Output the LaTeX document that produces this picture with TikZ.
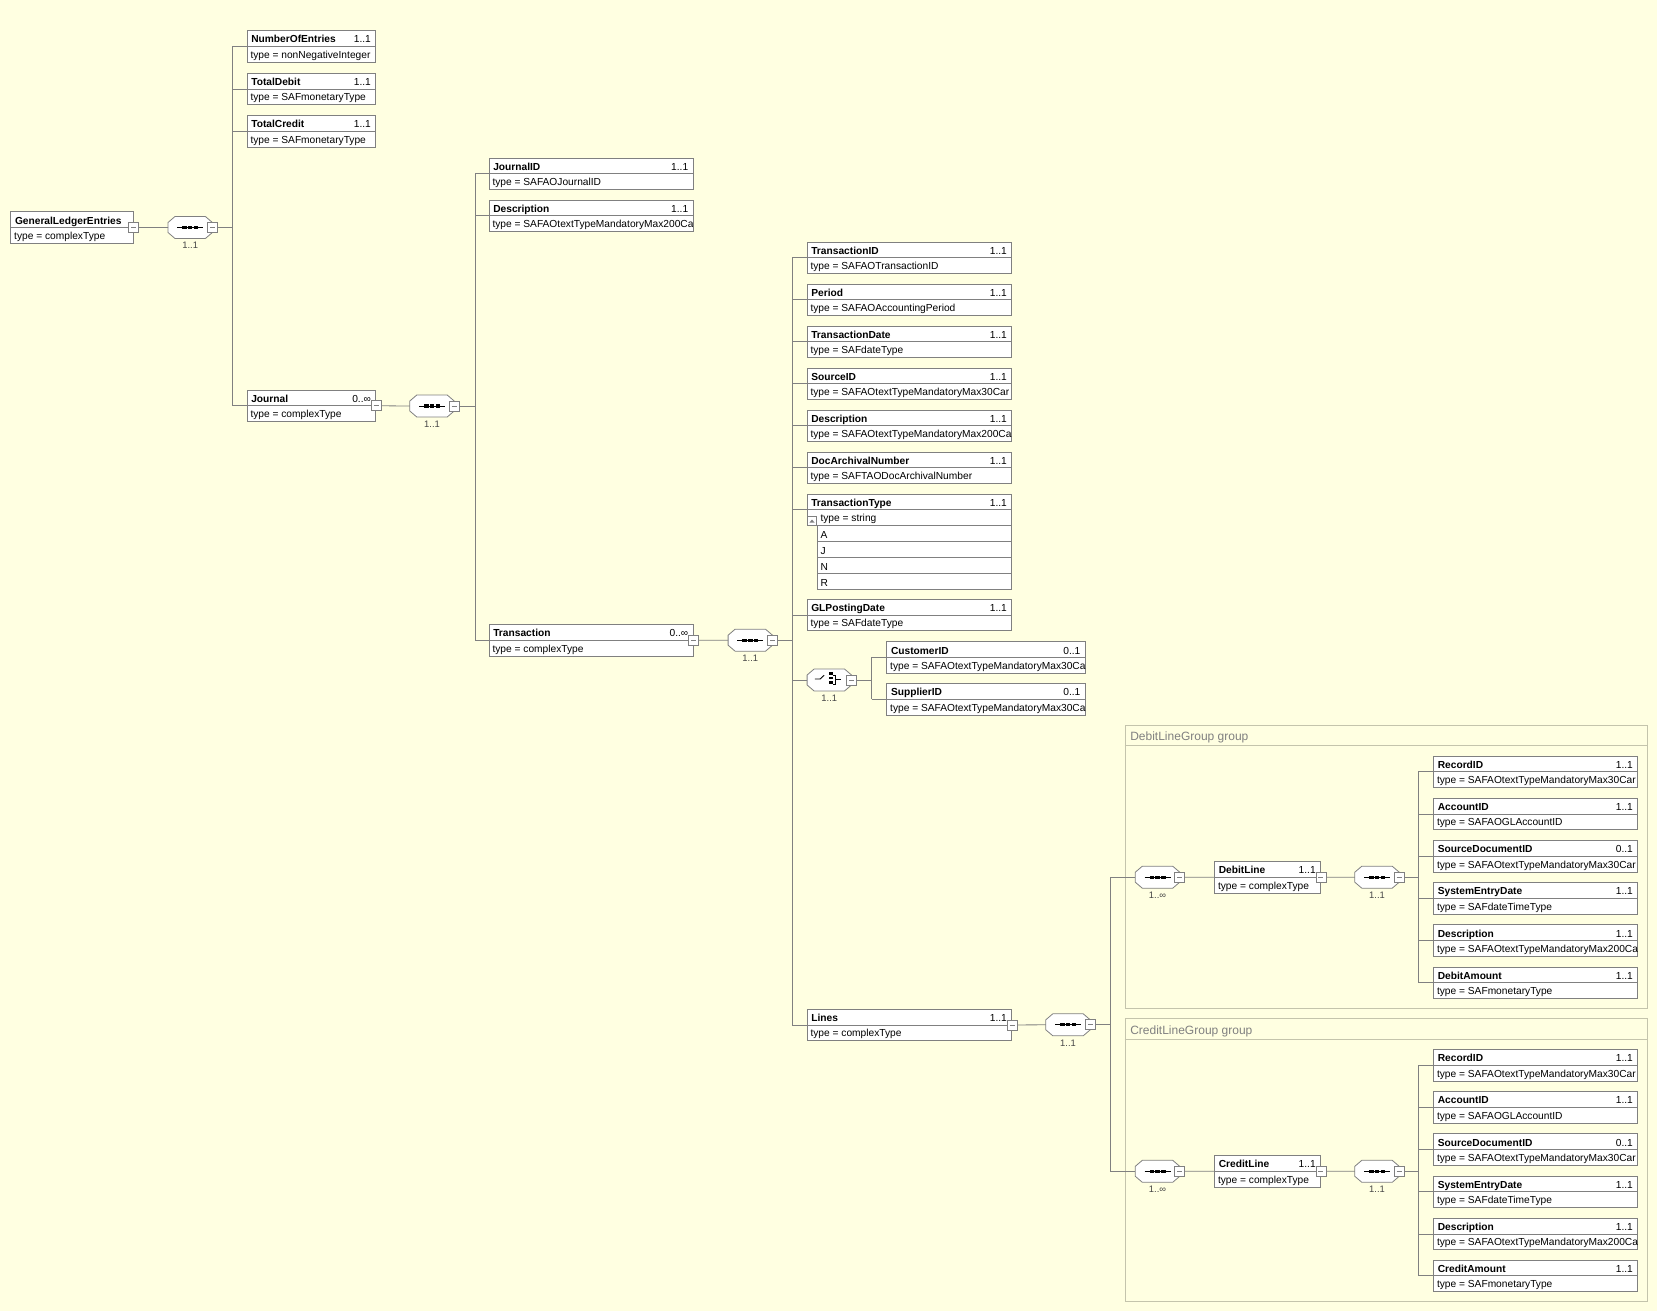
\documentclass[tikz,border=0pt]{standalone}
\usepackage{tikz}
\usepackage{xcolor}
\usepackage{fontspec}
\setmainfont{Liberation Sans}
\usetikzlibrary{calc}
\usetikzlibrary{shapes}

\definecolor{bgyellow}{RGB}{255,255,225}
\definecolor{linegray}{RGB}{128,128,128}
\definecolor{grpgray}{RGB}{196,196,172}
\definecolor{grptext}{RGB}{128,128,128}
\definecolor{cardgray}{RGB}{70,70,70}

\newcommand{\octo}[1]{%
  \draw[linegray,line width=.8pt,fill=white] ($(#1.west)+(0,-5)$) -- ($(#1.north west)+(7,0)$)
    -- ($(#1.north east)+(-7,0)$) -- ($(#1.east)+(0,-5)$) -- ($(#1.east)+(0,5)$)
    -- ($(#1.south east)+(-7,0)$) -- ($(#1.south west)+(7,0)$) -- ($(#1.west)+(0,5)$) -- cycle;}

\begin{document}
\begin{tikzpicture}[x=1pt,y=-1pt,font=\fontsize{10.2}{12}\selectfont,
  elbox/.style={draw=linegray,line width=.8pt,fill=white,minimum height=31.5,inner sep=0},
  conn/.style={draw=linegray,line width=.8pt},
  seqbox/.style={rectangle,minimum width=44,minimum height=21.6,inner sep=0},
  csq/.style={draw=linegray,line width=.8pt,fill=white,minimum size=10,inner sep=0,
    path picture={\draw[linegray,line width=.8pt] ([xshift=2.5pt]path picture bounding box.west) -- ([xshift=-2.5pt]path picture bounding box.east);}},
  txt/.style={inner sep=0},
  seqcard/.style={inner sep=0,text=cardgray,font=\fontsize{9.4}{11}\selectfont},
  grp/.style={draw=grpgray,line width=.8pt,inner sep=0},
  enumrow/.style={draw=linegray,line width=.8pt,fill=white,minimum width=194.7,minimum height=16,inner sep=0}]

\fill[bgyellow] (0,0) rectangle (1657,1311);
\useasboundingbox (0,0) rectangle (1657,1311);

% groups
\node[grp,minimum width=522.5,minimum height=283] (dgrp) at (1386.25,866.5) {};
\draw[grp] ($(dgrp.north west)+(0,21)$) -- ($(dgrp.north east)+(0,21)$);
\node[txt,anchor=base west,text=grptext,font=\fontsize{12}{14}\selectfont] (dgrp-t) at ($(dgrp.north west)+(5.5,16)$) {DebitLineGroup group};
\node[grp,minimum width=522.5,minimum height=282.5] (cgrp) at (1386.25,1159.75) {};
\draw[grp] ($(cgrp.north west)+(0,21)$) -- ($(cgrp.north east)+(0,21)$);
\node[txt,anchor=base west,text=grptext,font=\fontsize{12}{14}\selectfont] (cgrp-t) at ($(cgrp.north west)+(5.5,16)$) {CreditLineGroup group};

% elements
\foreach \nm/\xx/\yy/\ww/\ttl/\crd/\typ in {
  gle/10.7/211.7/122.6/GeneralLedgerEntries/{}/complexType,
  noe/247/30.7/128.7/NumberOfEntries/1..1/nonNegativeInteger,
  tdb/247/73.3/128.7/TotalDebit/1..1/SAFmonetaryType,
  tcr/247/115.7/128.7/TotalCredit/1..1/SAFmonetaryType,
  jrn/247/390/128.7/Journal/0..∞/complexType,
  jid/489/158/204/JournalID/1..1/SAFAOJournalID,
  jds/489/200/204/Description/1..1/SAFAOtextTypeMandatoryMax200Ca,
  trn/489/624.5/204/Transaction/0..∞/complexType,
  tid/807/242/204.7/TransactionID/1..1/SAFAOTransactionID,
  per/807/284/204.7/Period/1..1/SAFAOAccountingPeriod,
  tdt/807/326/204.7/TransactionDate/1..1/SAFdateType,
  sid/807/368/204.7/SourceID/1..1/SAFAOtextTypeMandatoryMax30Car,
  tds/807/410/204.7/Description/1..1/SAFAOtextTypeMandatoryMax200Ca,
  dan/807/452/204.7/DocArchivalNumber/1..1/SAFTAODocArchivalNumber,
  glp/807/599.3/204.7/GLPostingDate/1..1/SAFdateType,
  lns/807/1009.2/204.7/Lines/1..1/complexType,
  cus/886.7/641.7/198.5/CustomerID/0..1/SAFAOtextTypeMandatoryMax30Ca,
  sup/886.7/683.5/198.5/SupplierID/0..1/SAFAOtextTypeMandatoryMax30Ca,
  dln/1214.5/861.5/106/DebitLine/1..1/complexType,
  cln/1214.5/1155.5/106/CreditLine/1..1/complexType,
  drec/1433.5/756/204.2/RecordID/1..1/SAFAOtextTypeMandatoryMax30Car,
  dacc/1433.5/798.2/204.2/AccountID/1..1/SAFAOGLAccountID,
  dsrc/1433.5/840.4/204.2/SourceDocumentID/0..1/SAFAOtextTypeMandatoryMax30Car,
  dsys/1433.5/882.6/204.2/SystemEntryDate/1..1/SAFdateTimeType,
  ddes/1433.5/924.8/204.2/Description/1..1/SAFAOtextTypeMandatoryMax200Ca,
  damt/1433.5/967/204.2/DebitAmount/1..1/SAFmonetaryType,
  crec/1433.5/1049.4/204.2/RecordID/1..1/SAFAOtextTypeMandatoryMax30Car,
  cacc/1433.5/1091.6/204.2/AccountID/1..1/SAFAOGLAccountID,
  csrc/1433.5/1133.8/204.2/SourceDocumentID/0..1/SAFAOtextTypeMandatoryMax30Car,
  csys/1433.5/1176/204.2/SystemEntryDate/1..1/SAFdateTimeType,
  cdes/1433.5/1218.2/204.2/Description/1..1/SAFAOtextTypeMandatoryMax200Ca,
  camt/1433.5/1260/204.2/CreditAmount/1..1/SAFmonetaryType}
{
  \node[elbox,minimum width=\ww] (\nm) at (\xx+\ww/2,\yy+15.75) {};
  \draw[linegray,line width=.8pt] (\nm.west) -- (\nm.east);
  \begin{scope}
    \clip ($(\nm.south west)+(.5,-.5)$) rectangle ($(\nm.north east)+(-.5,.5)$);
    \node[txt,anchor=base west] (\nm-n) at ($(\nm.north west)+(4.5,12.7)$) {\bfseries\ttl};
    \node[txt,anchor=base east] (\nm-m) at ($(\nm.north east)+(-5,12.7)$) {\crd};
    \node[txt,anchor=base west] (\nm-y) at ($(\nm.north west)+(3.7,28)$) {type = \typ};
  \end{scope}
}

% enumeration
\node[elbox,minimum width=204.7,minimum height=31.7] (ttp) at (909.35,509.85) {};
\draw[linegray,line width=.8pt] (ttp.west) -- (ttp.east);
\node[txt,anchor=base west] (ttp-n) at ($(ttp.north west)+(4.5,12.7)$) {\bfseries TransactionType};
\node[txt,anchor=base east] (ttp-m) at ($(ttp.north east)+(-5,12.7)$) {1..1};
\node[txt,anchor=base west] (ttp-y) at ($(ttp.north west)+(13.7,28)$) {type = string};
\foreach \v [count=\i] in {A,J,N,R}{
  \node[enumrow] (en\i) at (914.35,517.7+16*\i) {};
  \node[txt,anchor=base west] (en\i-t) at ($(en\i.west)+(3.7,4.3)$) {\v};
}
\node[draw=linegray,line width=.8pt,fill=white,minimum size=9.5,inner sep=0] (ttpx) at (812,521) {};
\fill[linegray] ($(ttpx.center)+(-2.5,1.5)$) -- ($(ttpx.center)+(2.5,1.5)$) -- ($(ttpx.center)+(0,-1.5)$) -- cycle;

% compositors
\foreach \nm/\xx/\yy/\crd in {s1/190.2/227.5/1..1, s2/432/406/1..1, s3/750.3/640.2/1..1,
  s4/1068/1024.8/1..1, s5/1157.5/877.2/1..∞, s6/1377/877.2/1..1,
  s7/1157.5/1171.3/1..∞, s8/1377/1171.3/1..1}
{
  \node[seqbox] (\nm) at (\xx,\yy) {};
  \octo{\nm}
  \draw[line width=.9pt] ($(\nm.center)+(-13,0)$) -- ($(\nm.center)+(13,0)$);
  \foreach \dx in {-5.75,0,5.75}
    \fill ($(\nm.center)+(\dx-2.25,-1.6)$) rectangle ($(\nm.center)+(\dx+2.25,1.6)$);
  \node[seqcard] (\nm-c) at ($(\nm.south)+(0,7)$) {\crd};
}
\node[seqbox] (ch) at (829.3,680) {};
\octo{ch}
\begin{scope}[shift={(ch.center)},line width=.9pt]
  \draw (-14.5,-1) -- (-9.2,-1) -- (-5.2,-4.7);
  \fill (-.2,-7.7) rectangle (3.2,-5.3);
  \fill (-.2,-3.2) rectangle (3.2,-.8);
  \fill (-.2,1.3) rectangle (3.2,3.7);
  \draw (3.2,-5) -- (6,-5) -- (6,4) -- (3.2,4);
  \draw (6,-1) -- (12,-1);
\end{scope}
\node[seqcard] (ch-c) at ($(ch.south)+(0,7)$) {1..1};

% connectors
\draw[conn] (gle.east) -- (s1.west);
\coordinate (b1) at (232.3,0);
\draw[conn] (s1.east) -- (b1 |- s1.east);
\draw[conn] (b1 |- noe.west) -- (b1 |- jrn.west);
\foreach \c in {noe,tdb,tcr,jrn} \draw[conn] (b1 |- \c.west) -- (\c.west);

\draw[conn] (jrn.east) -- (s2.west);
\coordinate (b2) at (475,0);
\draw[conn] (s2.east) -- (b2 |- s2.east);
\draw[conn] (b2 |- jid.west) -- (b2 |- trn.west);
\foreach \c in {jid,jds,trn} \draw[conn] (b2 |- \c.west) -- (\c.west);

\draw[conn] (trn.east) -- (s3.west);
\coordinate (b3) at (792.3,0);
\draw[conn] (s3.east) -- (b3 |- s3.east);
\draw[conn] (b3 |- tid.west) -- (b3 |- lns.west);
\foreach \c in {tid,per,tdt,sid,tds,dan,ttp,glp,ch,lns} \draw[conn] (b3 |- \c.west) -- (\c.west);

\coordinate (bc) at (871.7,0);
\draw[conn] (ch.east) -- (bc |- ch.east);
\draw[conn] (bc |- cus.west) -- (bc |- sup.west);
\foreach \c in {cus,sup} \draw[conn] (bc |- \c.west) -- (\c.west);

\draw[conn] (lns.east) -- (s4.west);
\coordinate (b4) at (1110,0);
\draw[conn] (s4.east) -- (b4 |- s4.east);
\draw[conn] (b4 |- s5.west) -- (b4 |- s7.west);
\foreach \c in {s5,s7} \draw[conn] (b4 |- \c.west) -- (\c.west);

\draw[conn] (s5.east) -- (dln.west);
\draw[conn] (dln.east) -- (s6.west);
\coordinate (b6) at (1418,0);
\draw[conn] (s6.east) -- (b6 |- s6.east);
\draw[conn] (b6 |- drec.west) -- (b6 |- damt.west);
\foreach \c in {drec,dacc,dsrc,dsys,ddes,damt} \draw[conn] (b6 |- \c.west) -- (\c.west);

\draw[conn] (s7.east) -- (cln.west);
\draw[conn] (cln.east) -- (s8.west);
\draw[conn] (s8.east) -- (b6 |- s8.east);
\draw[conn] (b6 |- crec.west) -- (b6 |- camt.west);
\foreach \c in {crec,cacc,csrc,csys,cdes,camt} \draw[conn] (b6 |- \c.west) -- (\c.west);

% collapse boxes
\foreach \c in {gle,jrn,trn,lns,dln,cln,s1,s2,s3,ch,s4,s5,s6,s7,s8}
  \node[csq] (\c-x) at (\c.east) {};

\end{tikzpicture}
\end{document}
